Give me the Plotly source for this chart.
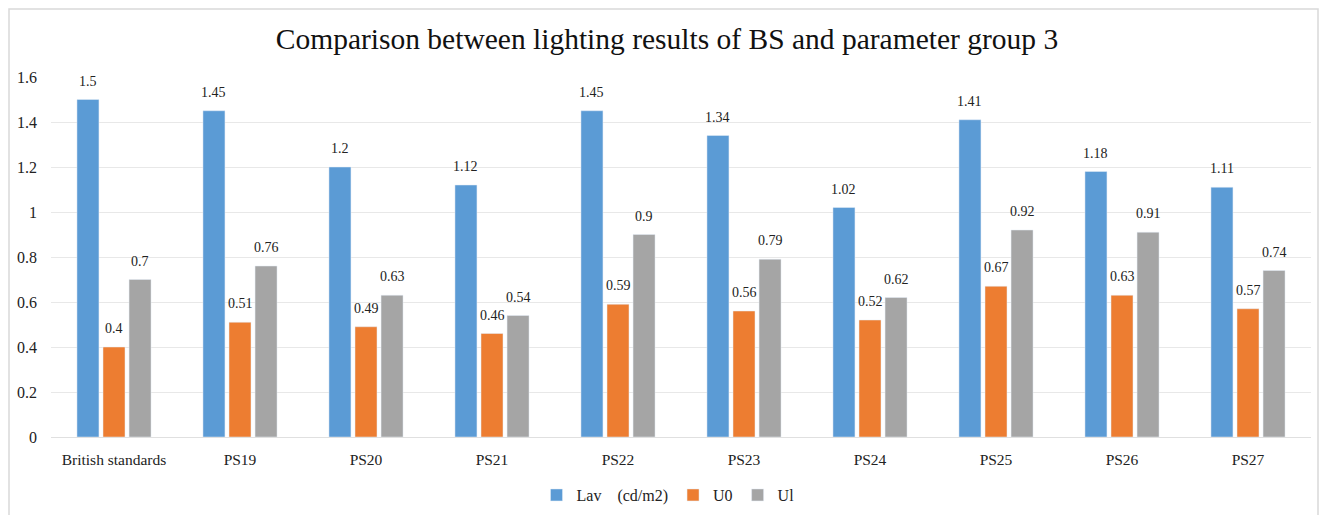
import plotly.graph_objects as go

categories = ["British standards", "PS19", "PS20", "PS21", "PS22", "PS23", "PS24", "PS25", "PS26", "PS27"]
lav = [1.5, 1.45, 1.2, 1.12, 1.45, 1.34, 1.02, 1.41, 1.18, 1.11]
u0 = [0.4, 0.51, 0.49, 0.46, 0.59, 0.56, 0.52, 0.67, 0.63, 0.57]
ul = [0.7, 0.76, 0.63, 0.54, 0.9, 0.79, 0.62, 0.92, 0.91, 0.74]
series_names = ["Lav\u00a0\u00a0\u00a0\u00a0(cd/m2)", "U0", "Ul"]
colors = ["#5B9BD5", "#ED7D31", "#A5A5A5"]
tick_vals = [0, 0.2, 0.4, 0.6, 0.8, 1.0, 1.2, 1.4, 1.6]
tick_text = ["0", "0.2", "0.4", "0.6", "0.8", "1", "1.2", "1.4", "1.6"]

font = "Liberation Serif"
W, H = 1333, 515
L, R, T, B = 43, 30, 69, 86
PW, PH = W - L - R, H - T - B
BARGAP = 0.38
GROUPGAP = 0.155

fig = go.Figure()
all_series = [lav, u0, ul]
n = len(all_series)
slot = (1 - BARGAP) / n
for k, (name, vals, c) in enumerate(zip(series_names, all_series, colors)):
    fig.add_trace(go.Bar(x=categories, y=vals, name=name, marker_color=c))
    off = (k - (n - 1) / 2) * slot
    for i, v in enumerate(vals):
        fig.add_annotation(x=i + off, y=v, xref="x", yref="y", text=f"{v:g}",
                           showarrow=False, yanchor="bottom", yshift=9,
                           font=dict(family=font, size=14, color="#222"))

fig.update_layout(
    width=W, height=H,
    paper_bgcolor="white", plot_bgcolor="white",
    margin=dict(l=L, r=R, t=T, b=B, autoexpand=False),
    title=dict(text="Comparison between lighting results of BS and parameter group 3",
               x=(659 - L) / PW, xanchor="center", xref="paper", y=0.94, yref="container", yanchor="middle",
               font=dict(family=font, size=29.5, color="#111")),
    barmode="group", bargap=BARGAP, bargroupgap=GROUPGAP,
    font=dict(family=font, size=15.5, color="#222"),
    legend=dict(orientation="h", x=(660 - L) / PW, xanchor="center", y=-0.114, yanchor="top",
                font=dict(family=font, size=16, color="#222"),
                itemwidth=30, traceorder="normal"),
    showlegend=True,
)
fig.update_yaxes(range=[0, 1.6], tickvals=tick_vals, ticktext=tick_text,
                 tickfont=dict(size=16),
                 showgrid=True, gridcolor="#E8E8E8", zeroline=False, automargin=False,
                 ticks="", ticklabelstandoff=13, showline=False)
fig.update_xaxes(showline=True, linecolor="#E0E0E0", ticks="", showgrid=False, automargin=False,
                 ticklabelstandoff=8)

fig.add_shape(type="rect", xref="paper", yref="paper",
              x0=(1 - L) / PW, x1=(1310 - L) / PW,
              y0=-0.3, y1=(PH + T - 1) / PH,
              line=dict(color="#D9D9D9", width=1.5), layer="below")

fig.write_html("out.html")
